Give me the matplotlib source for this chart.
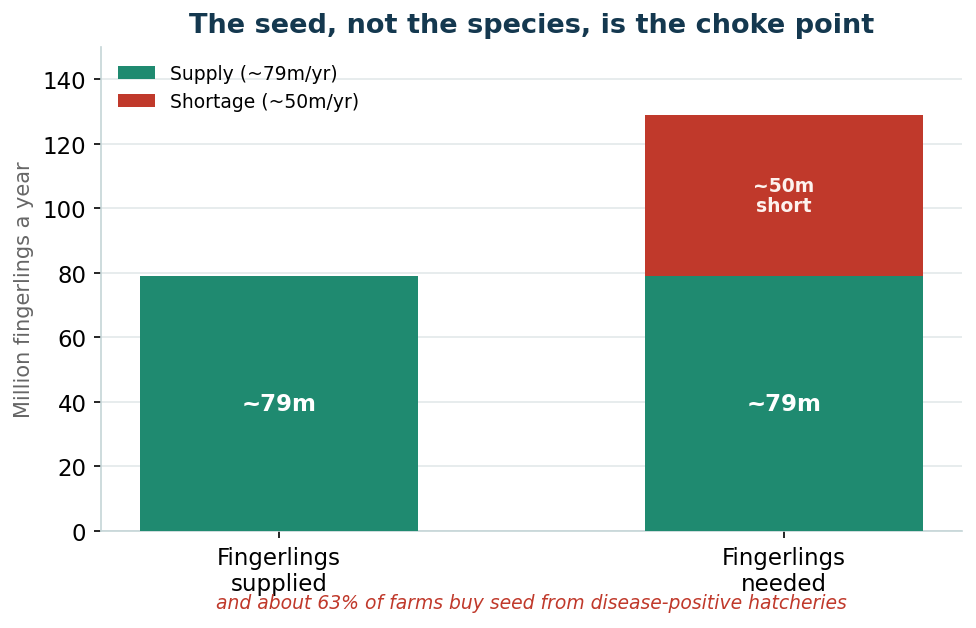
import matplotlib.pyplot as plt

categories = ['Fingerlings\nsupplied', 'Fingerlings\nneeded']
supply = [79, 79]
shortage = [0, 50]
supply_labels = ['~79m', '~79m']
shortage_label = '~50m\nshort'

green = '#1f8a70'
red = '#c0392b'

fig, ax = plt.subplots(figsize=(6.507, 4.193), dpi=150)
fig.subplots_adjust(left=0.1035, right=0.9857, bottom=0.1542, top=0.9237)

x = range(len(categories))
ax.bar(x, supply, width=0.55, color=green, label='Supply (~79m/yr)', zorder=3)
ax.bar(x, shortage, width=0.55, bottom=supply, color=red, label='Shortage (~50m/yr)', zorder=3)

for i, v in enumerate(supply):
    ax.text(i, v / 2, supply_labels[i], ha='center', va='center', color='white',
            fontsize=11, fontweight='bold', zorder=4)
ax.text(1, supply[1] + shortage[1] / 2, shortage_label, ha='center', va='center',
        color='#fdf2ee', fontsize=9, fontweight='bold', linespacing=1.1, zorder=4)

ax.set_xticks(list(x))
ax.set_xticklabels(categories, fontsize=11)
ax.set_ylim(0, 150)
ax.set_yticks(range(0, 141, 20))
ax.tick_params(axis='y', labelsize=11)
ax.set_ylabel('Million fingerlings a year', color='#666666', fontsize=10)
ax.set_title('The seed, not the species, is the choke point', fontsize=13,
             fontweight='bold', color='#14384f', pad=7)

ax.grid(axis='y', color='#e6ebec', linewidth=0.9, zorder=0)
ax.set_axisbelow(True)
for s in ['top', 'right']:
    ax.spines[s].set_visible(False)
for s in ['left', 'bottom']:
    ax.spines[s].set_color('#c5d5d7')

ax.legend(loc='upper left', frameon=False, fontsize=9)

ax.text(0.5, -0.148, 'and about 63% of farms buy seed from disease-positive hatcheries',
        transform=ax.transAxes, ha='center', va='center', style='italic',
        color=red, fontsize=9)

fig.savefig('out.png', dpi=150)
